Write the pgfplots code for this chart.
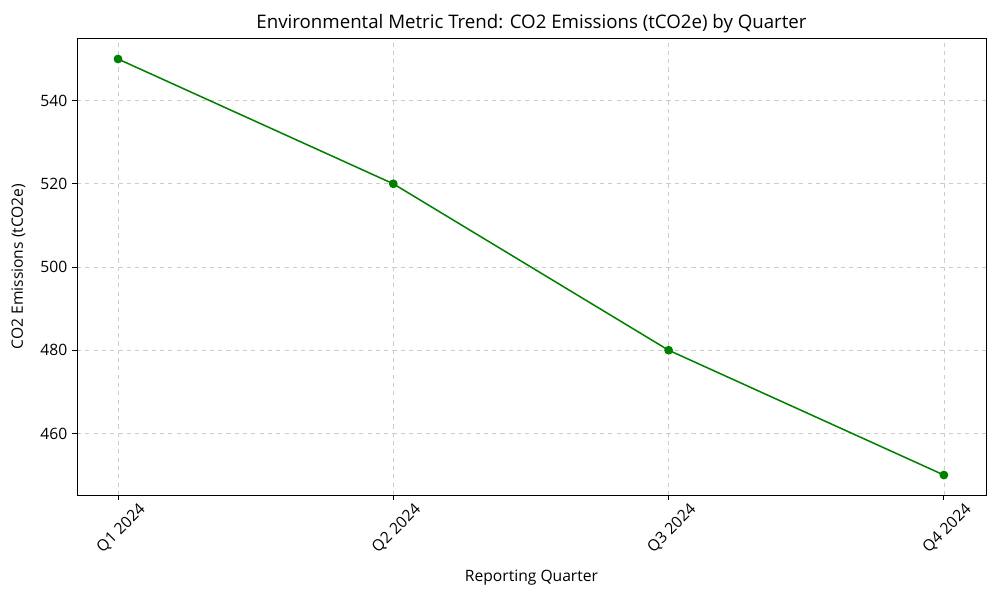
\documentclass[border=0pt]{standalone}
\usepackage{pgfplots}
\pgfplotsset{compat=1.18}
\usepackage{fontspec}
\setmainfont{Open Sans}
\definecolor{linegreen}{RGB}{0,128,0}
\begin{document}
\begin{tikzpicture}
\path[use as bounding box] (-0.77in,-1.05in) rectangle (9.23in,4.95in);
\begin{axis}[
    at={(0,0)}, anchor=south west,
    scale only axis,
    width=9.09in, height=4.57in,
    title={Environmental Metric Trend: CO2 Emissions (tCO2e) by Quarter},
    title style={font=\fontsize{13.5}{16}\selectfont, yshift=-6pt},
    xlabel={Reporting Quarter},
    ylabel={CO2 Emissions (tCO2e)},
    label style={font=\fontsize{11.3}{13}\selectfont},
    tick label style={font=\fontsize{11.3}{13}\selectfont},
    /pgf/number format/assume math mode=true,
    xmin=-0.149, xmax=3.153,
    ymin=445.2, ymax=555.05,
    xtick=data,
    xticklabels={Q1 2024,Q2 2024,Q3 2024,Q4 2024},
    x tick label style={xshift=0.2in, rotate=45, anchor=north east, inner sep=1pt},
    ytick={460,480,500,520,540},
    xtick pos=bottom, ytick pos=left,
    grid=major,
    grid style={dashed, color=black!20, line width=0.5pt},
    tick align=outside,
    major tick length=3.5pt,
    tick style={black, line width=0.6pt},
    axis line style={line width=0.6pt},
    xlabel style={yshift=-6pt},
    ylabel style={yshift=4pt},
]
\addplot[color=linegreen, line width=1.1pt, mark=*, mark size=2.6pt, mark options={fill=linegreen, draw=linegreen}]
coordinates {
    (0,550)(1,520)(2,480)(3,450)
};
\end{axis}
\end{tikzpicture}
\end{document}
